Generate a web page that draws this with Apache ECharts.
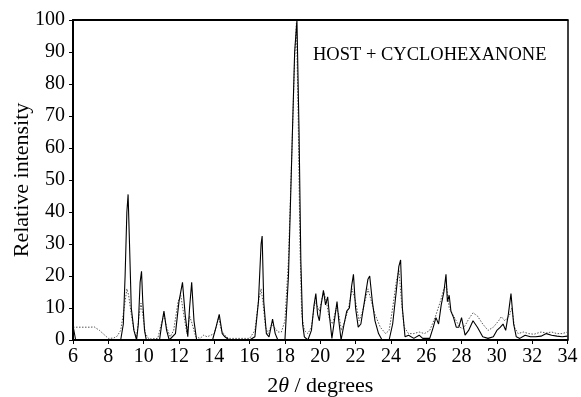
<!DOCTYPE html>
<html>
<head>
<meta charset="utf-8">
<script src="https://cdn.jsdelivr.net/npm/echarts@6/dist/echarts.min.js"></script>
<style>html,body{margin:0;padding:0;background:#fff;}#c{width:581px;height:397px;}</style>
</head>
<body>
<div id="c"></div>
<script>
// Two-theta positions and intensities, experimental (solid)
var solidX = [6.0,6.15,8.7,8.85,8.95,9.05,9.12,9.2,9.3,9.45,9.6,9.7,9.8,9.88,9.95,10.05,10.15,10.9,11.0,11.15,11.3,11.45,11.8,12.0,12.2,12.35,12.5,12.6,12.72,12.85,13.0,13.9,14.1,14.28,14.45,14.6,14.7,14.85,16.0,16.3,16.5,16.65,16.71,16.8,16.95,17.1,17.3,17.45,17.6,18.0,18.2,18.4,18.55,18.68,18.8,18.9,19.0,19.1,19.3,19.5,19.65,19.75,19.85,19.95,20.05,20.18,20.3,20.42,20.55,20.66,20.8,20.95,21.05,21.18,21.35,21.5,21.65,21.78,21.88,22.0,22.15,22.3,22.5,22.7,22.8,22.95,23.1,23.3,23.5,23.9,24.1,24.3,24.45,24.55,24.65,24.8,25.0,25.3,25.6,25.8,26.2,26.4,26.55,26.7,26.85,27.0,27.12,27.2,27.3,27.4,27.55,27.7,27.85,28.0,28.2,28.4,28.65,28.9,29.2,29.5,29.8,30.0,30.2,30.35,30.5,30.65,30.8,30.95,31.1,31.3,31.6,31.9,32.2,32.5,32.8,33.1,33.4,33.7,34.0];
var solidY = [4.5,0,0,5,20,40,45.5,30,10,3,0,5,18,21.5,12,3,0,0,4,9,3,0,2,12,18,8,1,10,18,6,0,0,4,8,2,1,1,0,0,1,12,30,32.5,12,2,1,6.5,2,0,0,20,60,90,100,65,25,5,1,0,3,11,14.5,8,6,11,15.5,11,13.5,6,0.5,6,12,6,0,5,9,10,17,20.5,10,4,5,12,19,20,12,6,2,0,0,5,15,23,25,10,1,1.5,0.5,1.5,0.5,0.5,4,7,5,11,15,20.5,12,14,9,7,4,4,7,1.5,3,6,4,1,0.5,1,3,4,5,3,8,14.5,5,1,0.5,1.5,1,1,1.2,2,1.5,1.2,1,1.2];
// Calculated pattern (dotted)
var dottedX = [6.0,6.5,7.0,7.2,7.5,7.8,8.0,8.3,8.5,8.7,8.9,9.05,9.15,9.3,9.45,9.6,9.75,9.85,9.95,10.1,10.3,10.8,11.0,11.15,11.3,11.5,11.7,11.95,12.1,12.3,12.45,12.6,12.75,12.95,13.2,13.4,13.6,13.8,14.0,14.25,14.4,14.6,14.8,15.5,16.0,16.3,16.5,16.65,16.75,16.9,17.05,17.25,17.4,17.6,17.8,18.0,18.2,18.4,18.55,18.65,18.75,18.85,18.95,19.1,19.3,19.5,19.7,19.8,19.95,20.1,20.2,20.35,20.5,20.7,20.9,21.05,21.2,21.4,21.6,21.8,22.0,22.2,22.4,22.7,22.9,23.1,23.4,23.7,23.9,24.1,24.3,24.45,24.6,24.75,25.0,25.3,25.6,25.9,26.2,26.5,26.8,27.0,27.15,27.3,27.5,27.7,27.9,28.1,28.4,28.65,28.9,29.2,29.5,29.8,30.1,30.25,30.45,30.7,30.85,31.0,31.2,31.5,31.8,32.1,32.5,32.8,33.1,33.4,33.7,34.0];
var dottedY = [4,4,4,4.1,3,1.5,0.5,0.6,1.2,3,10,16,14,8,3,1,8,11.5,8,2,0.3,0.5,5,8,4,1,3,12,14,7,2,7.5,5,1,0.5,1.5,1,1.5,2,7,3,1.5,0.5,0.5,0.5,3,12,16,12,4,2,5,4,2.5,2.5,6,25,60,88,99,70,30,8,3,2,4,12,11,9,13,15,12,7,5,10,8,3,6,10,16,12,6,9,16,12,8,4,2,3,10,18,22,12,4,2,2,2.5,2,3,7,12,16,17,10,8,6,4,3.5,6.5,8.5,7.5,5,3,4,6,7.3,6,7.5,10,4,2,2.5,2,1.8,2.5,2.2,2.5,2,2,2.5];
var xTicks = {min: 6, max: 34, step: 2};
var yTicks = {min: 0, max: 100, step: 10};
var annotation = 'HOST + CYCLOHEXANONE';

function pairs(xs, ys){ return xs.map(function(x,i){ return [x, ys[i]]; }); }

var chart = echarts.init(document.getElementById('c'), null, {renderer: 'canvas'});
var serif = '"Liberation Serif", "DejaVu Serif", serif';
chart.setOption({
  animation: false,
  backgroundColor: '#fff',
  grid: {left: 73, right: 13.5, top: 20, bottom: 57, containLabel: false, outerBoundsMode: 'none'},
  xAxis: [{
    type: 'value', min: xTicks.min, max: xTicks.max, interval: xTicks.step,
    axisLine: {show: true, onZero: false, lineStyle: {color: '#000', width: 2}},
    axisTick: {show: true, inside: false, length: 4, lineStyle: {color: '#000', width: 1}},
    axisLabel: {color: '#000', fontFamily: serif, fontSize: 20, margin: 7},
    splitLine: {show: false},
    name: '{n|2}{t|θ}{n| / degrees}',
    nameLocation: 'middle', nameGap: 35,
    nameTextStyle: {rich: {n: {fontFamily: serif, fontSize: 22, color: '#000'}, t: {fontFamily: serif, fontSize: 22, fontStyle: 'italic', color: '#000'}}}
  }, {
    type: 'value', position: 'top', min: xTicks.min, max: xTicks.max, interval: xTicks.step,
    axisLine: {show: true, onZero: false, lineStyle: {color: '#000', width: 2}},
    axisTick: {show: false}, axisLabel: {show: false}, splitLine: {show: false}
  }],
  yAxis: [{
    type: 'value', min: yTicks.min, max: yTicks.max, interval: yTicks.step,
    axisLine: {show: true, onZero: false, lineStyle: {color: '#000', width: 2}},
    axisTick: {show: true, inside: false, length: 4, lineStyle: {color: '#000', width: 1}},
    axisLabel: {color: '#000', fontFamily: serif, fontSize: 20, margin: 8},
    splitLine: {show: false},
    name: 'Relative intensity', nameLocation: 'middle', nameGap: 40, nameRotate: 90,
    nameMoveOverlap: false,
    nameTextStyle: {fontFamily: serif, fontSize: 22, color: '#000'}
  }, {
    type: 'value', position: 'right', min: yTicks.min, max: yTicks.max, interval: yTicks.step,
    axisLine: {show: true, onZero: false, lineStyle: {color: '#000', width: 1.5}},
    axisTick: {show: false}, axisLabel: {show: false}, splitLine: {show: false}
  }],
  series: [{
    type: 'line', name: 'calculated', data: pairs(dottedX, dottedY), symbol: 'none',
    lineStyle: {color: '#555', width: 1, type: [1.5, 1.5]}, z: 2
  }, {
    type: 'line', name: 'experimental', data: pairs(solidX, solidY), symbol: 'none',
    lineStyle: {color: '#000', width: 1.1}, z: 3
  }],
  graphic: [{
    type: 'text', left: 313, top: 46,
    style: {text: annotation, fontFamily: serif, fontSize: 18.5, fill: '#000'}
  }]
});
</script>
</body>
</html>
